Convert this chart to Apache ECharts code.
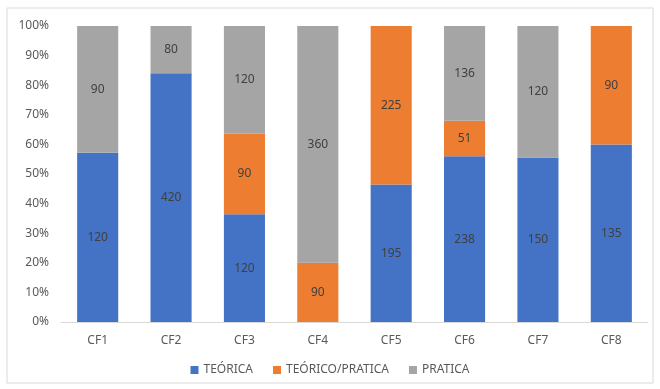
<!DOCTYPE html>
<html>
<head>
<meta charset="utf-8">
<script src="https://cdn.jsdelivr.net/npm/echarts@6/dist/echarts.min.js"></script>
<style>
* { margin: 0; padding: 0; }
body { background: #fff; }
</style>
</head>
<body>
<div id="main" style="width: 660px;height: 389px;"></div>
<script>
const categories = ["CF1", "CF2", "CF3", "CF4", "CF5", "CF6", "CF7", "CF8"];
const teorica = [120, 420, 120, 0, 195, 238, 150, 135];
const teoricoPratica = [0, 0, 90, 90, 225, 51, 0, 90];
const pratica = [90, 80, 120, 360, 0, 136, 120, 0];
const yTicks = [0, 10, 20, 30, 40, 50, 60, 70, 80, 90, 100];

// totals per category, to turn raw counts into shares of 100%
const totals = categories.map((c, i) => teorica[i] + teoricoPratica[i] + pratica[i]);

function toShare(arr) {
  return arr.map((v, i) => ({ value: v / totals[i] * 100, raw: v }));
}

const font = "Noto Sans";
const txt = "#595959";

function makeSeries(name, arr, color) {
  return {
    name: name,
    type: "bar",
    stack: "total",
    barCategoryGap: "44%",
    data: toShare(arr),
    itemStyle: { color: color },
    label: {
      show: true,
      position: "inside",
      color: "#404040",
      fontFamily: font,
      fontSize: 12,
      formatter: p => (p.data.raw ? String(p.data.raw) : "")
    }
  };
}

const chart = echarts.init(document.getElementById("main"));
chart.setOption({
  animation: false,
  graphic: [{
    type: "rect",
    shape: { x: 7, y: 8, width: 646, height: 375 },
    style: { fill: "none", stroke: "#D9D9D9", lineWidth: 1 },
    silent: true
  }],
  grid: { left: 61, right: 12, top: 26, bottom: 67 },
  legend: {
    bottom: 8,
    left: "center",
    itemWidth: 8,
    itemHeight: 8,
    itemGap: 20,
    icon: "rect",
    textStyle: { color: txt, fontFamily: font, fontSize: 12 },
    data: ["TEÓRICA", "TEÓRICO/PRATICA", "PRATICA"]
  },
  xAxis: {
    type: "category",
    data: categories,
    axisLine: { lineStyle: { color: "#D9D9D9" } },
    axisTick: { show: false },
    axisLabel: { color: txt, fontFamily: font, fontSize: 12, margin: 13 }
  },
  yAxis: {
    type: "value",
    min: 0,
    max: 100,
    interval: 10,
    splitLine: { show: false },
    axisLine: { show: false },
    axisTick: { show: false },
    axisLabel: {
      color: txt,
      fontFamily: font,
      fontSize: 12,
      margin: 12,
      formatter: v => (yTicks.includes(v) ? v + "%" : "")
    }
  },
  series: [
    makeSeries("TEÓRICA", teorica, "#4472C4"),
    makeSeries("TEÓRICO/PRATICA", teoricoPratica, "#ED7D31"),
    makeSeries("PRATICA", pratica, "#A5A5A5")
  ]
});
</script>
</body>
</html>
